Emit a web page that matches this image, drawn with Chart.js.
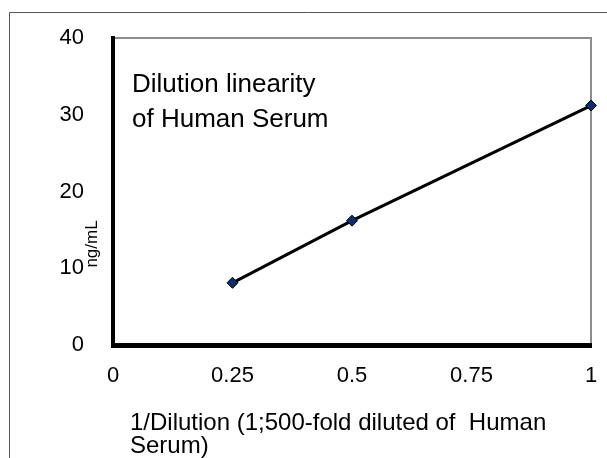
<!DOCTYPE html>
<html>
<head>
<meta charset="utf-8">
<script src="https://cdn.jsdelivr.net/npm/chart.js@4"></script>
<style>
  body { margin: 0; background: #fff; }
  canvas { display: block; }
</style>
</head>
<body>
<canvas id="chart" width="607" height="458"></canvas>
<script>
// dilution points (1/dilution) and measured concentration
const dilution = [0.25, 0.5, 1];
const conc = [8.1, 16.2, 31.2];

const xTickValues = [0, 0.25, 0.5, 0.75, 1];
const xTickLabels = ['0', '0.25', '0.5', '0.75', '1'];
const yTickValues = [0, 10, 20, 30, 40];

const titleLines = ['Dilution linearity', 'of Human Serum'];
const xTitleLines = ['1/Dilution (1;500-fold diluted of  Human', 'Serum)'];
const yTitle = 'ng/mL';

const FONT = '"Liberation Sans", Arial, sans-serif';

// frame, plot box and the free text
const extras = {
    id: 'extras',
    beforeDraw(chart) {
        const c = chart.ctx, a = chart.chartArea;
        c.save();
        c.strokeStyle = '#555';
        c.lineWidth = 1;
        c.beginPath();
        c.moveTo(9.5, 458);
        c.lineTo(9.5, 12.5);
        c.lineTo(607, 12.5);
        c.stroke();

        c.strokeStyle = '#8c8c8c';
        c.lineWidth = 2;
        c.beginPath();
        c.moveTo(a.left, a.top);
        c.lineTo(a.right, a.top);
        c.lineTo(a.right, a.bottom);
        c.stroke();
        c.restore();
    },
    afterDraw(chart) {
        const c = chart.ctx;
        c.save();
        c.fillStyle = '#000';
        c.textBaseline = 'alphabetic';
        c.textAlign = 'left';

        c.font = '26px ' + FONT;
        c.fillText(titleLines[0], 132, 92);
        c.fillText(titleLines[1], 132, 127);

        c.font = '24px ' + FONT;
        c.fillText(xTitleLines[0], 130, 430);
        c.fillText(xTitleLines[1], 130, 453);

        c.translate(92, 244);
        c.rotate(-Math.PI / 2);
        c.textAlign = 'center';
        c.textBaseline = 'middle';
        c.font = '17px ' + FONT;
        c.fillText(yTitle, 0, 0);
        c.restore();
    }
};

const ctx = document.getElementById('chart').getContext('2d');
new Chart(ctx, {
    type: 'scatter',
    data: {
        datasets: [{
            data: dilution.map((d, i) => ({ x: d, y: conc[i] })),
            showLine: true,
            borderColor: '#000',
            borderWidth: 3,
            pointStyle: 'rectRot',
            pointRadius: 5.5,
            pointBackgroundColor: '#0b2d6e',
            pointBorderColor: '#000',
            pointBorderWidth: 1,
            clip: false
        }]
    },
    options: {
        responsive: false,
        animation: false,
        layout: { padding: { left: 0, right: 16, top: 38, bottom: 0 } },
        plugins: { legend: { display: false }, tooltip: { enabled: false } },
        scales: {
            x: {
                type: 'linear',
                min: 0, max: 1,
                afterFit: s => { s.height = 113; s.paddingLeft = 0; s.paddingRight = 0; },
                afterBuildTicks: s => { s.ticks = xTickValues.map(v => ({ value: v })); },
                grid: { display: false, drawTicks: false },
                border: { display: true, color: '#000', width: 5 },
                ticks: {
                    padding: 18,
                    color: '#000',
                    font: { family: FONT, size: 22 },
                    maxRotation: 0,
                    callback: v => xTickLabels[xTickValues.indexOf(v)]
                }
            },
            y: {
                min: 0, max: 40,
                afterFit: s => { s.width = 113; s.paddingTop = 0; s.paddingBottom = 0; },
                afterBuildTicks: s => { s.ticks = yTickValues.map(v => ({ value: v })); },
                grid: { display: false, drawTicks: false },
                border: { display: true, color: '#000', width: 4 },
                ticks: {
                    padding: 29,
                    color: '#000',
                    font: { family: FONT, size: 22 },
                    callback: v => String(v)
                }
            }
        }
    },
    plugins: [extras]
});
</script>
</body>
</html>
